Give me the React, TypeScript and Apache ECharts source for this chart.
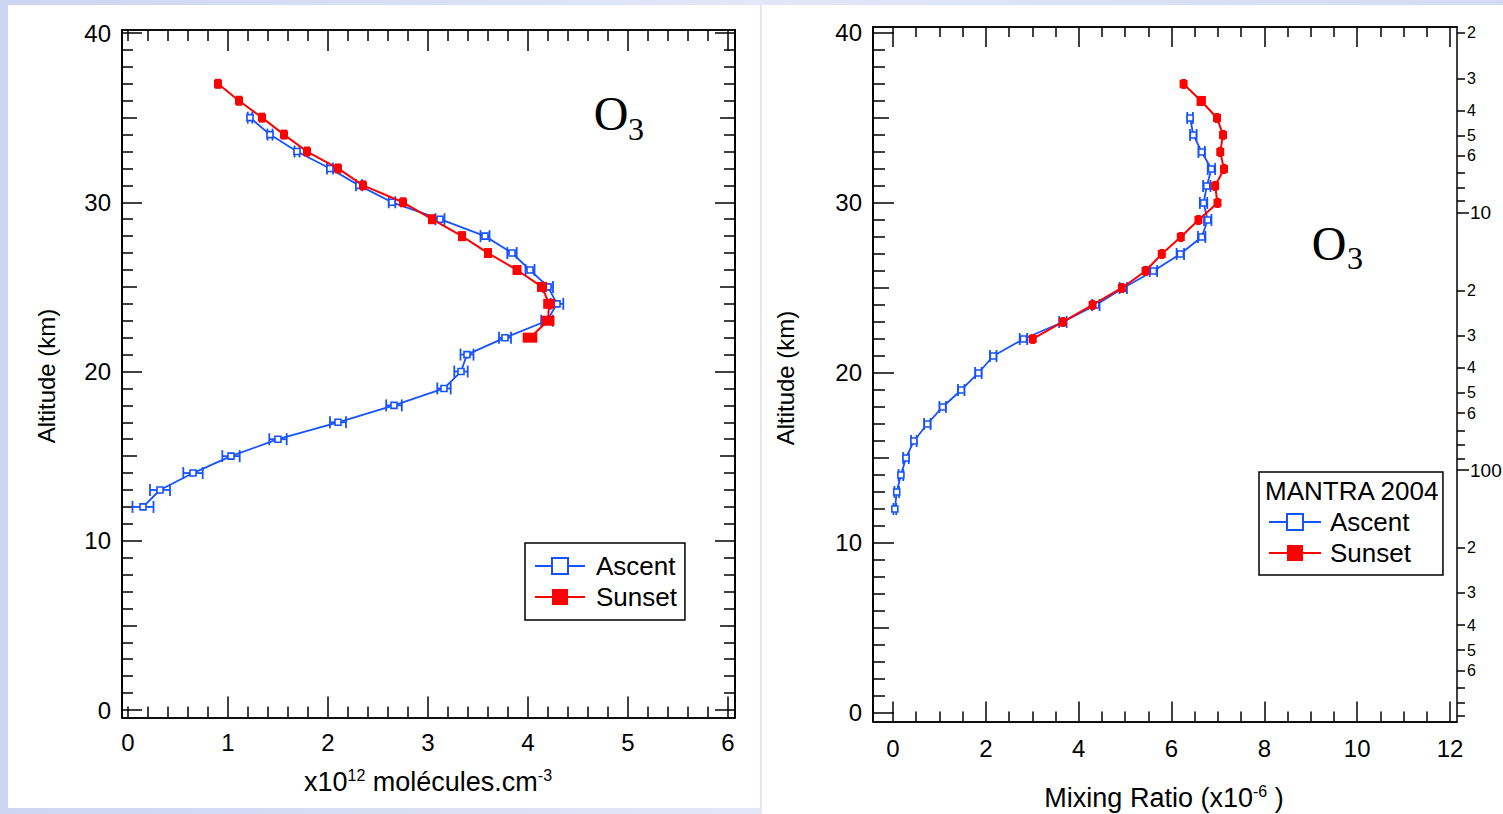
import React, { useEffect, useRef } from 'react';
import * as echarts from 'echarts';

const FONT = '"Liberation Sans", Arial, Helvetica, sans-serif';
const SERIF = '"Liberation Serif", "Times New Roman", serif';
const BLUE = '#1652ff';
const RED = '#ff0000';

// ---- Left panel: O3 number density (x10^12 molecules/cm3) ----
const ascentAltL = [12, 13, 14, 15, 16, 17, 18, 19, 20, 21, 22, 23, 24, 25, 26, 27, 28, 29, 30, 31, 32, 33, 34, 35];
const ascentDensity = [0.15, 0.32, 0.65, 1.03, 1.5, 2.1, 2.66, 3.16, 3.33, 3.39, 3.77, 4.19, 4.29, 4.2, 4.02, 3.84, 3.57, 3.12, 2.64, 2.31, 2.02, 1.69, 1.42, 1.22];
const ascentDensityErr = [0.105, 0.1, 0.097, 0.087, 0.087, 0.08, 0.078, 0.067, 0.067, 0.065, 0.06, 0.058, 0.063, 0.05, 0.045, 0.047, 0.045, 0.045, 0.033, 0.03, 0.03, 0.025, 0.025, 0.023];
const sunsetAltL = [22, 23, 24, 25, 26, 27, 28, 29, 30, 31, 32, 33, 34, 35, 36, 37];
const sunsetDensity = [4.02, 4.2, 4.21, 4.14, 3.89, 3.6, 3.34, 3.04, 2.75, 2.35, 2.1, 1.79, 1.56, 1.34, 1.11, 0.9];
const sunsetDensityErr = [0.073, 0.065, 0.058, 0.05, 0.045, 0.04, 0.04, 0.04, 0.03, 0.03, 0.03, 0.03, 0.03, 0.03, 0.03, 0.03];

// ---- Right panel: O3 mixing ratio (x10^-6) ----
const ascentAltR = [12, 13, 14, 15, 16, 17, 18, 19, 20, 21, 22, 23, 24, 25, 26, 27, 28, 29, 30, 31, 32, 33, 34, 35];
const ascentVmr = [0.04, 0.08, 0.17, 0.28, 0.45, 0.74, 1.07, 1.47, 1.84, 2.16, 2.81, 3.66, 4.37, 4.96, 5.61, 6.19, 6.65, 6.78, 6.69, 6.76, 6.86, 6.65, 6.47, 6.4];
const ascentVmrErr = [0.03, 0.05, 0.05, 0.06, 0.06, 0.07, 0.07, 0.07, 0.07, 0.07, 0.08, 0.08, 0.08, 0.08, 0.08, 0.08, 0.08, 0.08, 0.08, 0.08, 0.08, 0.07, 0.07, 0.06];
const sunsetAltR = [22, 23, 24, 25, 26, 27, 28, 29, 30, 31, 32, 33, 34, 35, 36, 37];
const sunsetVmr = [3.01, 3.66, 4.3, 4.93, 5.44, 5.79, 6.2, 6.58, 6.99, 6.94, 7.13, 7.05, 7.11, 6.98, 6.64, 6.26];
const sunsetVmrErr = [0.05, 0.05, 0.05, 0.05, 0.05, 0.05, 0.05, 0.05, 0.05, 0.05, 0.05, 0.05, 0.05, 0.05, 0.1, 0.05];

// ---- Ticks ----
const altLabels = [0, 10, 20, 30, 40];
const altMid = [5, 15, 25, 35];
const altMinor = [1, 2, 3, 4, 6, 7, 8, 9, 11, 12, 13, 14, 16, 17, 18, 19, 21, 22, 23, 24, 26, 27, 28, 29, 31, 32, 33, 34, 36, 37, 38, 39];
const densLabels = [0, 1, 2, 3, 4, 5, 6];
const densMajor = [1, 2, 3, 4, 5, 6];
const densMinor = [0, 0.2, 0.4, 0.6, 0.8, 1.2, 1.4, 1.6, 1.8, 2.2, 2.4, 2.6, 2.8, 3.2, 3.4, 3.6, 3.8, 4.2, 4.4, 4.6, 4.8, 5.2, 5.4, 5.6, 5.8];
const vmrLabels = [0, 2, 4, 6, 8, 10, 12];
const vmrMinor = [0.5, 1, 1.5, 2.5, 3, 3.5, 4.5, 5, 5.5, 6.5, 7, 7.5, 8.5, 9, 9.5, 10.5, 11, 11.5];
const pressureTicks = [2, 3, 4, 5, 6, 7, 8, 9, 20, 30, 40, 50, 60, 70, 80, 90, 200, 300, 400, 500, 600, 700, 800, 900];
const pressureLabels = [2, 3, 4, 5, 6, 20, 30, 40, 50, 60, 200, 300, 400, 500, 600];
const pressureDecades = [10, 100];

const BLACK = '#000';

function valueAxis(grid: number, pos: string, min: number, max: number, ticks: number[], len: number, labels?: number[]) {
  return {
    type: 'value',
    gridIndex: grid,
    position: pos,
    min,
    max,
    axisLine: { show: true, onZero: false, lineStyle: { color: BLACK, width: 1.5 } },
    axisTick: { show: true, inside: true, length: len, customValues: ticks, lineStyle: { color: BLACK, width: 1.5 } },
    axisLabel: labels
      ? { show: true, customValues: labels, fontSize: 24, color: BLACK, fontFamily: FONT, margin: 11 }
      : { show: false },
    splitLine: { show: false },
  };
}

function blueErr(params: any, api: any) {
  const x = api.value(0);
  const y = api.value(1);
  const e = api.value(2);
  const a = api.coord([x - e, y]);
  const b = api.coord([x + e, y]);
  const h = 6;
  const st = { stroke: BLUE, lineWidth: 1.8 };
  return {
    type: 'group',
    children: [
      { type: 'line', shape: { x1: a[0], y1: a[1], x2: b[0], y2: b[1] }, style: st },
      { type: 'line', shape: { x1: a[0], y1: a[1] - h, x2: a[0], y2: a[1] + h }, style: st },
      { type: 'line', shape: { x1: b[0], y1: b[1] - h, x2: b[0], y2: b[1] + h }, style: st },
    ],
  };
}

function redErr(params: any, api: any) {
  const x = api.value(0);
  const y = api.value(1);
  const e = api.value(2);
  const a = api.coord([x - e, y]);
  const b = api.coord([x + e, y]);
  return {
    type: 'rect',
    shape: { x: a[0], y: a[1] - 5, width: b[0] - a[0], height: 10 },
    style: { fill: RED },
  };
}

function pressureMantissa(v: number) {
  const p = Math.pow(10, Math.floor(Math.log10(v) + 1e-9));
  return String(Math.round(v / p));
}

export default function App() {
  const ref = useRef<HTMLDivElement>(null);

  useEffect(() => {
    if (!ref.current) return;
    const chart = echarts.init(ref.current, undefined, { renderer: 'svg' });

    const lxMin = -0.06, lxMax = 6.07, lyMin = -0.443, lyMax = 40.18;
    const rxMin = -0.431, rxMax = 12.15, ryMin = -0.5, ryMax = 40.35;
    const pTop = 1.896, pBottom = 948;

    const xAxis: any[] = [
      valueAxis(0, 'bottom', lxMin, lxMax, densMajor, 21, densLabels),
      valueAxis(0, 'bottom', lxMin, lxMax, densMinor, 11),
      valueAxis(0, 'top', lxMin, lxMax, densMajor, 21),
      valueAxis(0, 'top', lxMin, lxMax, densMinor, 11),
      valueAxis(1, 'bottom', rxMin, rxMax, vmrLabels, 20, vmrLabels),
      valueAxis(1, 'bottom', rxMin, rxMax, vmrMinor, 10),
      valueAxis(1, 'top', rxMin, rxMax, vmrLabels, 20),
      valueAxis(1, 'top', rxMin, rxMax, vmrMinor, 10),
    ];
    xAxis[0].axisLabel.margin = 13;
    xAxis[4].axisLabel.margin = 15;

    const logAxisBase = {
      type: 'log',
      logBase: 10,
      gridIndex: 1,
      position: 'right',
      inverse: true,
      min: pTop,
      max: pBottom,
      splitLine: { show: false },
    };

    const yAxis: any[] = [
      valueAxis(0, 'left', lyMin, lyMax, altLabels, 20, altLabels),
      valueAxis(0, 'left', lyMin, lyMax, altMid, 15),
      valueAxis(0, 'left', lyMin, lyMax, altMinor, 11),
      valueAxis(0, 'right', lyMin, lyMax, altLabels, 20),
      valueAxis(0, 'right', lyMin, lyMax, altMid, 15),
      valueAxis(0, 'right', lyMin, lyMax, altMinor, 11),
      valueAxis(1, 'left', ryMin, ryMax, altLabels, 21, altLabels),
      valueAxis(1, 'left', ryMin, ryMax, altMid, 16),
      valueAxis(1, 'left', ryMin, ryMax, altMinor, 12),
      {
        ...logAxisBase,
        axisLine: { show: true, onZero: false, lineStyle: { color: BLACK, width: 1.5 } },
        axisTick: { show: true, inside: false, length: 8, customValues: pressureTicks, lineStyle: { color: BLACK, width: 1.5 } },
        axisLabel: { show: true, customValues: pressureLabels, formatter: (v: number) => pressureMantissa(v), fontSize: 16, color: BLACK, fontFamily: FONT, margin: 10 },
      },
      {
        ...logAxisBase,
        axisLine: { show: false, onZero: false },
        axisTick: { show: true, inside: false, length: 12, customValues: pressureDecades, lineStyle: { color: BLACK, width: 1.5 } },
        axisLabel: { show: true, customValues: pressureDecades, formatter: (v: number) => String(Math.round(v)), fontSize: 19, color: BLACK, fontFamily: FONT, margin: 13 },
      },
    ];

    const pairs = (xs: number[], ys: number[]) => xs.map((v, i) => [v, ys[i]]);
    const triples = (xs: number[], ys: number[], es: number[]) => xs.map((v, i) => [v, ys[i], es[i]]);

    const blueLine = (data: any[], xi: number, yi: number) => ({
      name: 'Ascent',
      type: 'line',
      xAxisIndex: xi,
      yAxisIndex: yi,
      data,
      symbol: 'rect',
      symbolSize: 6,
      showAllSymbol: true,
      itemStyle: { color: '#fff', borderColor: BLUE, borderWidth: 1.6 },
      lineStyle: { color: BLUE, width: 1.8 },
      z: 3,
    });
    const redLine = (data: any[], xi: number, yi: number) => ({
      name: 'Sunset',
      type: 'line',
      xAxisIndex: xi,
      yAxisIndex: yi,
      data,
      symbol: 'rect',
      symbolSize: 8,
      showAllSymbol: true,
      itemStyle: { color: RED, borderColor: RED, borderWidth: 0 },
      lineStyle: { color: RED, width: 2 },
      z: 5,
    });
    const errSeries = (name: string, data: any[], xi: number, yi: number, fn: any, z: number) => ({
      name,
      type: 'custom',
      xAxisIndex: xi,
      yAxisIndex: yi,
      data,
      renderItem: fn,
      encode: { x: 0, y: 1 },
      z,
      silent: true,
    });

    const series: any[] = [
      errSeries('AscentErrL', triples(ascentDensity, ascentAltL, ascentDensityErr), 0, 0, blueErr, 2),
      blueLine(pairs(ascentDensity, ascentAltL), 0, 0),
      errSeries('SunsetErrL', triples(sunsetDensity, sunsetAltL, sunsetDensityErr), 0, 0, redErr, 4),
      redLine(pairs(sunsetDensity, sunsetAltL), 0, 0),
      errSeries('AscentErrR', triples(ascentVmr, ascentAltR, ascentVmrErr), 4, 6, blueErr, 2),
      blueLine(pairs(ascentVmr, ascentAltR), 4, 6),
      errSeries('SunsetErrR', triples(sunsetVmr, sunsetAltR, sunsetVmrErr), 4, 6, redErr, 4),
      redLine(pairs(sunsetVmr, sunsetAltR), 4, 6),
    ];

    const legendBase = {
      orient: 'vertical',
      itemWidth: 50,
      itemHeight: 20,
      itemGap: 5,
      borderColor: BLACK,
      borderWidth: 1.5,
      backgroundColor: '#fff',
      borderRadius: 0,
      selectedMode: false,
      textStyle: { fontSize: 26, color: BLACK, fontFamily: FONT, padding: [0, 0, 0, 6] },
      data: ['Ascent', 'Sunset'],
    };

    const titleRich = {
      n: { fontSize: 27, fontFamily: FONT, fill: BLACK, lineHeight: 30 },
      s: { fontSize: 16, fontFamily: FONT, fill: BLACK, verticalAlign: 'top', lineHeight: 30 },
    };

    chart.setOption({
      animation: false,
      backgroundColor: 'transparent',
      grid: [
        { left: 122, top: 30, width: 613, height: 687.5, containLabel: false, outerBoundsMode: 'none' },
        { left: 873, top: 27, width: 584, height: 694.5, containLabel: false, outerBoundsMode: 'none' },
      ],
      xAxis,
      yAxis,
      series,
      legend: [
        { ...legendBase, left: 525, top: 543, padding: [10, 8, 10, 9] },
        { ...legendBase, left: 1259, top: 472, padding: [37, 32, 9, 9], itemWidth: 52, textStyle: { ...legendBase.textStyle, padding: [0, 0, 0, 4] } },
      ],
      graphic: [
        { type: 'text', x: 1265, y: 491, z: 100, style: { text: 'MANTRA 2004', fontSize: 26, fontFamily: FONT, fill: BLACK, align: 'left', verticalAlign: 'middle' } },
        { type: 'text', x: 611, y: 113, style: { text: 'O', fontSize: 48, fontFamily: SERIF, fill: BLACK, align: 'center', verticalAlign: 'middle' } },
        { type: 'text', x: 636, y: 129, style: { text: '3', fontSize: 32, fontFamily: SERIF, fill: BLACK, align: 'center', verticalAlign: 'middle' } },
        { type: 'text', x: 1329, y: 243, style: { text: 'O', fontSize: 48, fontFamily: SERIF, fill: BLACK, align: 'center', verticalAlign: 'middle' } },
        { type: 'text', x: 1355, y: 258, style: { text: '3', fontSize: 32, fontFamily: SERIF, fill: BLACK, align: 'center', verticalAlign: 'middle' } },
        { type: 'text', x: 46, y: 376, rotation: Math.PI / 2, style: { text: 'Altitude (km)', fontSize: 24, fontFamily: FONT, fill: BLACK, align: 'center', verticalAlign: 'middle' } },
        { type: 'text', x: 785, y: 378, rotation: Math.PI / 2, style: { text: 'Altitude (km)', fontSize: 24, fontFamily: FONT, fill: BLACK, align: 'center', verticalAlign: 'middle' } },
        { type: 'text', x: 428, y: 782, style: { text: '{n|x10}{s|12}{n| molécules.cm}{s|-3}', rich: titleRich, align: 'center', verticalAlign: 'middle' } },
        { type: 'text', x: 1164, y: 798, style: { text: '{n|Mixing Ratio (x10}{s|-6}{n| )}', rich: titleRich, align: 'center', verticalAlign: 'middle' } },
      ],
    });

    return () => chart.dispose();
  }, []);

  return (
    <div style={{ position: 'absolute', left: 0, top: 0, width: 1503, height: 814, overflow: 'hidden', background: 'linear-gradient(90deg, #cdd5f2 0%, #e3e7f7 50%, #d3daf3 100%)' }}>
      <div style={{ position: 'absolute', left: 8, top: 5, width: 752, height: 803, background: '#fff' }} />
      <div style={{ position: 'absolute', left: 762, top: 5, width: 741, height: 809, background: '#fff' }} />
      <div ref={ref} style={{ position: 'absolute', left: 0, top: 0, width: 1503, height: 814 }} />
    </div>
  );
}
